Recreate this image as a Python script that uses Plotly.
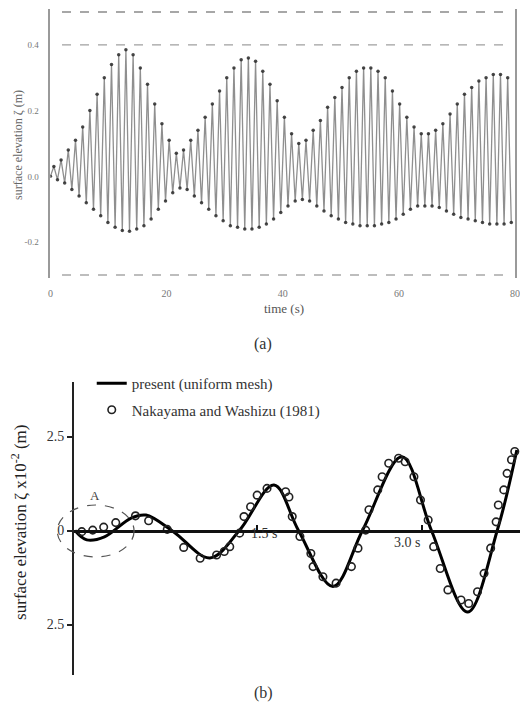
import plotly.graph_objects as go

# ---------------- panel (a): wave record (crest / trough of each wave) ----------------
crest_t = [0.6, 1.84, 3.08, 4.32, 5.56, 6.8, 8.04, 9.28, 10.52, 11.76, 13.0, 14.24, 15.48, 16.72, 17.96, 19.2,
           20.44, 21.68, 22.92, 24.16, 25.4, 26.64, 27.88, 29.12, 30.36, 31.6, 32.84, 34.08, 35.32, 36.56, 37.8,
           39.04, 40.28, 41.52, 42.76, 44.0, 45.24, 46.48, 47.72, 48.96, 50.2, 51.44, 52.68, 53.92, 55.16, 56.4,
           57.64, 58.88, 60.12, 61.36, 62.6, 63.84, 65.08, 66.32, 67.56, 68.8, 70.04, 71.28, 72.52, 73.76, 75.0,
           76.24, 77.48, 78.72]
crest_z = [0.03, 0.05, 0.08, 0.11, 0.15, 0.20, 0.25, 0.30, 0.34, 0.37, 0.385, 0.37, 0.33, 0.28, 0.22, 0.16,
           0.11, 0.07, 0.08, 0.11, 0.14, 0.18, 0.22, 0.26, 0.30, 0.33, 0.355, 0.36, 0.35, 0.32, 0.28,
           0.23, 0.18, 0.13, 0.10, 0.11, 0.14, 0.17, 0.21, 0.24, 0.27, 0.30, 0.32, 0.33, 0.33, 0.32,
           0.30, 0.26, 0.22, 0.18, 0.15, 0.13, 0.13, 0.14, 0.16, 0.19, 0.22, 0.25, 0.27, 0.29, 0.30,
           0.31, 0.31, 0.30]
trough_t = [1.22, 2.46, 3.7, 4.94, 6.18, 7.42, 8.66, 9.9, 11.14, 12.38, 13.62, 14.86, 16.1, 17.34, 18.58, 19.82,
            21.06, 22.3, 23.54, 24.78, 26.02, 27.26, 28.5, 29.74, 30.98, 32.22, 33.46, 34.7, 35.94, 37.18, 38.42,
            39.66, 40.9, 42.14, 43.38, 44.62, 45.86, 47.1, 48.34, 49.58, 50.82, 52.06, 53.3, 54.54, 55.78, 57.02,
            58.26, 59.5, 60.74, 61.98, 63.22, 64.46, 65.7, 66.94, 68.18, 69.42, 70.66, 71.9, 73.14, 74.38, 75.62,
            76.86, 78.1, 79.34]
trough_z = [-0.01, -0.02, -0.04, -0.06, -0.08, -0.10, -0.12, -0.14, -0.155, -0.165, -0.167, -0.16, -0.15, -0.13,
            -0.10, -0.075, -0.05, -0.035, -0.04, -0.06, -0.08, -0.10, -0.12, -0.135, -0.15, -0.155, -0.16, -0.16,
            -0.155, -0.145, -0.13, -0.11, -0.09, -0.075, -0.07, -0.075, -0.09, -0.105, -0.12, -0.13, -0.14,
            -0.145, -0.15, -0.15, -0.15, -0.145, -0.14, -0.13, -0.115, -0.10, -0.09, -0.09, -0.09, -0.095,
            -0.105, -0.115, -0.125, -0.13, -0.135, -0.14, -0.145, -0.145, -0.145, -0.14]
a_xticks = [0, 20, 40, 60, 80]
a_yticks = [0.4, 0.2, 0.0, -0.2]
a_yticktext = ["0.4", "0.2", "0.0", "-0.2"]

# ---------------- panel (b): surface elevation at gauge ----------------
present_t = [-0.162, -0.054, 0.107, 0.35, 0.485, 0.736, 1.069, 1.338, 1.653, 1.877, 2.192, 2.461, 2.821,
             3.090, 3.420, 3.690, 3.869]
present_z = [0.0, -0.25, -0.17, 0.33, 0.41, -0.03, -0.73, 0.0, 1.21, 0.0, -1.49, 0.0, 1.96, 0.0, -2.17, 0.0, 2.14]

naka_t = [-0.10, 0.00, 0.10, 0.21, 0.39, 0.51, 0.68, 0.83, 0.98, 1.13, 1.20, 1.25, 1.34, 1.38, 1.44, 1.50,
          1.59, 1.76, 1.79, 1.82, 1.89, 1.99, 2.01, 2.10, 2.22, 2.36, 2.42, 2.49, 2.52, 2.60, 2.64, 2.70,
          2.79, 2.85, 2.93, 2.99, 3.06, 3.11, 3.17, 3.24, 3.36, 3.43, 3.51, 3.57, 3.63, 3.68, 3.70, 3.75,
          3.78, 3.82, 3.85]
naka_z = [-0.03, 0.01, 0.09, 0.21, 0.39, 0.26, 0.03, -0.45, -0.74, -0.65, -0.56, -0.43, -0.07, 0.37, 0.63, 0.94,
          1.12, 1.03, 0.89, 0.37, -0.16, -0.61, -0.96, -1.23, -1.40, -0.96, -0.47, 0.01, 0.55, 1.08, 1.43, 1.79,
          1.92, 1.83, 1.43, 0.81, 0.28, -0.43, -1.01, -1.58, -1.85, -1.94, -1.63, -1.14, -0.47, 0.23, 0.68, 1.08,
          1.52, 1.88, 2.10]
b_xticks = [1.5, 3.0]
b_xticktext = ["1.5 s", "3.0 s"]
b_yticks = [2.5, 0, -2.5]
b_yticktext = ["2.5", "0", "2.5"]

# page has an 8px body margin: the figure is drawn from (8, 8)
OFF = 8
W, H = 528 - OFF, 711 - OFF
SERIF = "Liberation Serif, Times New Roman, serif"

def px(x):
    return (x - OFF) / W

def py(y):
    return 1 - (y - OFF) / H

# merge crests and troughs into one zig-zag record
pairs = sorted([(0.0, 0.0)] + list(zip(crest_t, crest_z)) + list(zip(trough_t, trough_z)))
rec_t = [p[0] for p in pairs]
rec_z = [p[1] for p in pairs]

fig = go.Figure()

fig.add_trace(go.Scatter(
    x=rec_t, y=rec_z, mode="lines+markers", xaxis="x", yaxis="y", showlegend=False,
    line=dict(color="rgba(105,105,105,0.75)", width=1.3),
    marker=dict(size=3.5, color="rgba(40,40,40,0.85)"),
    hoverinfo="skip"))

fig.add_trace(go.Scatter(
    x=present_t, y=present_z, mode="lines", xaxis="x2", yaxis="y2",
    name="present (uniform mesh)", legendgroup="g1",
    line=dict(color="black", width=3, shape="spline", smoothing=1.0)))

fig.add_trace(go.Scatter(
    x=naka_t, y=naka_z, mode="markers", xaxis="x2", yaxis="y2",
    name="Nakayama and Washizu (1981)", legendgroup="g2",
    marker=dict(symbol="circle-open", size=7.5, color="#222", line=dict(width=1.6, color="#222"))))

# panel (a) geometry: 0.5 -> y=12px, -0.3 -> y=275px
a_lo, a_hi = -0.31, 0.51
a_scale = (275 - 12) / 0.8
a_top = 12 - (a_hi - 0.5) * a_scale
a_bot = 275 + (-0.3 - a_lo) * a_scale

# panel (b) geometry
b_left = 72
b_top, b_bot = 382, 675
zero_px = 530.5
b_unit = 37.6
b_hi = (zero_px - b_top) / b_unit
b_lo = -(b_bot - zero_px) / b_unit
t_per_px = 1.5 / (425 - 258)
b_xlo = 1.5 - (258 - b_left) * t_per_px
b_xhi = 1.5 + (528 - 258) * t_per_px

gray_txt = "#777"

fig.update_layout(
    width=W, height=H, margin=dict(l=0, r=0, t=0, b=0),
    paper_bgcolor="white", plot_bgcolor="white",
    font=dict(family=SERIF, color="#222"),
    xaxis=dict(domain=[px(48), px(520)], anchor="y", range=[0, 80], tickvals=a_xticks,
               showgrid=False, zeroline=False, showline=False, ticks="",
               ticklabelstandoff=8,
               tickfont=dict(size=10, color=gray_txt, family=SERIF)),
    yaxis=dict(domain=[py(a_bot), py(a_top)], anchor="x", range=[a_lo, a_hi],
               tickvals=a_yticks, ticktext=a_yticktext,
               showgrid=False, zeroline=False, showline=True, mirror=True,
               linecolor="#9a9a9a", linewidth=1.6, ticks="", ticklabelstandoff=8,
               tickfont=dict(size=9, color=gray_txt, family=SERIF)),
    xaxis2=dict(domain=[px(b_left), 1.0], anchor="free", position=py(zero_px),
                range=[b_xlo, b_xhi], tickvals=b_xticks, showticklabels=False,
                showgrid=False, zeroline=False, showline=True, linecolor="#111", linewidth=2.5,
                ticks="inside", ticklen=5, tickwidth=1.5, tickcolor="#111"),
    yaxis2=dict(domain=[py(b_bot), py(b_top)], anchor="x2", range=[b_lo, b_hi],
                tickvals=b_yticks, ticktext=b_yticktext,
                showgrid=False, zeroline=False, showline=True, linecolor="#222", linewidth=2,
                ticks="outside", ticklen=5, tickwidth=1.5, tickcolor="#222",
                tickfont=dict(size=14, color="#333", family=SERIF)),
    legend=dict(x=px(90), y=py(367), xanchor="left", yanchor="top",
                bgcolor="rgba(0,0,0,0)", borderwidth=0, tracegroupgap=4,
                font=dict(size=15, color="#333", family=SERIF), itemwidth=30),
)

shapes = []
# dashed reference lines of panel (a)
for yv, c in [(0.5, "#8a8a8a"), (0.4, "#a0a0a0"), (-0.3, "#a8a8a8")]:
    shapes.append(dict(type="line", xref="x", yref="y", x0=2, x1=79, y0=yv, y1=yv,
                       line=dict(color=c, width=1.4, dash="dash")))
# dashed ellipse "A"
shapes.append(dict(type="circle", xref="paper", yref="paper",
                   x0=px(55), x1=px(133), y0=py(557), y1=py(505),
                   line=dict(color="#555", width=1.2, dash="dash")))
fig.update_layout(shapes=shapes)

ann = [
    dict(text="surface elevation ζ (m)", x=px(15), y=py(145), textangle=-90,
         font=dict(size=12, color="#666", family=SERIF)),
    dict(text="time (s)", x=px(285), y=py(308), font=dict(size=13, color="#555", family=SERIF)),
    dict(text="(a)", x=px(264), y=py(344), font=dict(size=16, color="#333", family=SERIF)),
    dict(text="(b)", x=px(264), y=py(693), font=dict(size=16, color="#333", family=SERIF)),
    dict(text="surface elevation ζ x10<sup>-2</sup> (m)", x=px(16), y=py(522), textangle=-90,
         font=dict(size=17, color="#222", family=SERIF)),
    dict(text="A", x=px(93), y=py(495), font=dict(size=13, color="#444", family=SERIF)),
]
for a in ann:
    a.update(xref="paper", yref="paper", showarrow=False, xanchor="center", yanchor="middle")
# tick labels of panel (b) x axis, placed like the original
label_pos = [(1.563, 543), (2.866, 552)]
for (tv, ypix), txt in zip(label_pos, b_xticktext):
    ann.append(dict(text=txt, x=tv, xref="x2", y=py(ypix), yref="paper", showarrow=False,
                    font=dict(size=14, color="#333", family=SERIF)))
fig.update_layout(annotations=ann)

fig.write_html("out.html")
